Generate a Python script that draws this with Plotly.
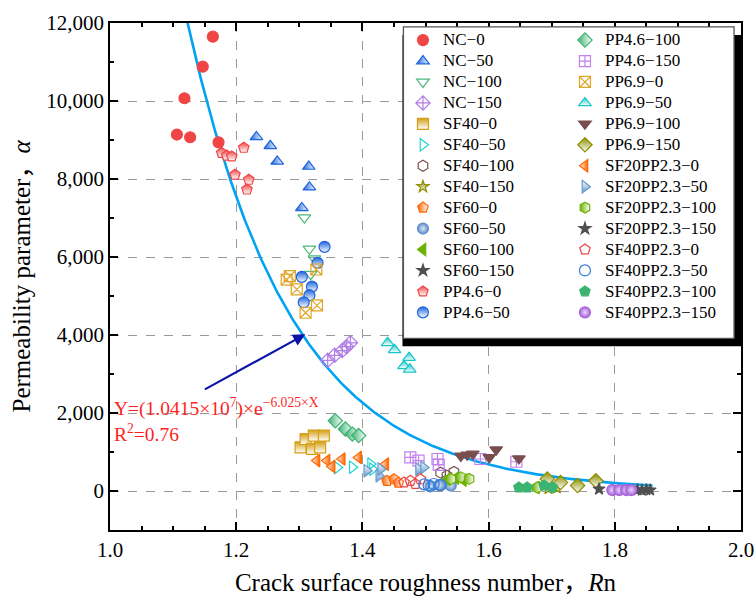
import numpy as np
import plotly.graph_objects as go

# ---------------- data ----------------
NC_0_x = [1.163, 1.147, 1.118, 1.106, 1.127, 1.172]
NC_0_y = [11650, 10880, 10070, 9140, 9070, 8940]
NC_50_x = [1.232, 1.254, 1.265, 1.315, 1.316, 1.304]
NC_50_y = [9080, 8850, 8450, 8320, 7790, 7260]
NC_100_x = [1.308, 1.316, 1.324, 1.318]
NC_100_y = [7010, 6210, 5960, 5560]
NC_150_x = [1.345, 1.356, 1.368, 1.375, 1.381]
NC_150_y = [3350, 3480, 3600, 3700, 3800]
SF40_0_x = [1.302, 1.310, 1.323, 1.339, 1.320, 1.333]
SF40_0_y = [1120, 1330, 1420, 1420, 1080, 1120]
SF40_50_x = [1.360, 1.384, 1.413, 1.416]
SF40_50_y = [600, 610, 690, 560]
SF40_100_x = [1.524, 1.545, 1.534]
SF40_100_y = [470, 490, 390]
SF40_150_x = [1.695, 1.708]
SF40_150_y = [60, 80]
SF60_0_x = [1.439, 1.450, 1.457]
SF60_0_y = [260, 300, 210]
SF60_50_x = [1.508, 1.522, 1.540]
SF60_50_y = [120, 150, 140]
SF60_100_x = [1.535, 1.548, 1.560, 1.676]
SF60_100_y = [300, 330, 280, 90]
SF60_150_x = [1.836, 1.843, 1.850, 1.856]
SF60_150_y = [30, 20, 35, 25]
PP46_0_x = [1.177, 1.185, 1.193, 1.212, 1.198, 1.220, 1.217]
PP46_0_y = [8670, 8600, 8580, 8800, 8110, 7980, 7730]
PP46_50_x = [1.340, 1.329, 1.304, 1.320, 1.316, 1.307]
PP46_50_y = [6260, 5850, 5490, 5240, 5020, 4840]
PP46_100_x = [1.357, 1.373, 1.384, 1.394]
PP46_100_y = [1800, 1590, 1460, 1420]
PP46_150_x = [1.476, 1.489, 1.519, 1.521, 1.587, 1.644]
PP46_150_y = [860, 780, 820, 670, 820, 750]
PP69_0_x = [1.285, 1.280, 1.296, 1.327, 1.328, 1.310]
PP69_0_y = [5510, 5420, 5170, 5680, 4760, 4570]
PP69_50_x = [1.440, 1.451, 1.474, 1.466, 1.475]
PP69_50_y = [3800, 3620, 3420, 3210, 3120]
PP69_100_x = [1.556, 1.566, 1.575, 1.601, 1.612, 1.648]
PP69_100_y = [900, 930, 950, 860, 1060, 830]
PP69_150_x = [1.693, 1.714, 1.741, 1.770]
PP69_150_y = [310, 220, 140, 260]
SF20PP_0_x = [1.328, 1.344, 1.352, 1.368, 1.394, 1.437]
SF20PP_0_y = [780, 780, 630, 820, 860, 690]
SF20PP_50_x = [1.407, 1.426, 1.429, 1.489, 1.497]
SF20PP_50_y = [520, 390, 560, 560, 600]
SF20PP_100_x = [1.540, 1.556, 1.569, 1.677]
SF20PP_100_y = [310, 350, 310, 90]
SF20PP_150_x = [1.775]
SF20PP_150_y = [50]
SF40PP_0_x = [1.466, 1.476, 1.484, 1.492]
SF40PP_0_y = [220, 260, 180, 300]
SF40PP_50_x = [1.505, 1.513, 1.524, 1.498]
SF40PP_50_y = [140, 180, 150, 170]
SF40PP_100_x = [1.648, 1.661, 1.688, 1.701]
SF40PP_100_y = [90, 90, 140, 90]
SF40PP_150_x = [1.796, 1.807, 1.818, 1.826]
SF40PP_150_y = [25, 25, 25, 25]

# fitted model shown on the chart: Y = A * exp(-B * X)
FIT_A = 1.0415e7
FIT_B = 6.025
FIT_X_START = 1.10
FIT_X_END = 1.86
R2 = 0.76

X_TICKS = [1.0, 1.2, 1.4, 1.6, 1.8, 2.0]
Y_TICKS = [0, 2000, 4000, 6000, 8000, 10000, 12000]

# ---------------- styles ----------------
W = "white"
series = [
    # name, x, y, symbol, color, fill, gradient(type, color), legend
    ("NC−0", NC_0_x, NC_0_y, "circle", "#F04545", None, None, "legend"),
    ("NC−50", NC_50_x, NC_50_y, "triangle-up", "#1E64DC", None, ("horizontal", W), "legend"),
    ("NC−100", NC_100_x, NC_100_y, "triangle-down-open", "#4DB87A", None, None, "legend"),
    ("NC−150", NC_150_x, NC_150_y, "diamond-cross-open", "#B07CE8", None, None, "legend"),
    ("SF40−0", SF40_0_x, SF40_0_y, "square", "#D4A017", None, ("vertical", W), "legend"),
    ("SF40−50", SF40_50_x, SF40_50_y, "triangle-right-open", "#1ED2D2", None, None, "legend"),
    ("SF40−100", SF40_100_x, SF40_100_y, "hexagon-open", "#7A4E4E", None, None, "legend"),
    ("SF40−150", SF40_150_x, SF40_150_y, "star", "#8E8E00", None, ("vertical", W), "legend"),
    ("SF60−0", SF60_0_x, SF60_0_y, "pentagon", "#FF6600", None, ("horizontal", W), "legend"),
    ("SF60−50", SF60_50_x, SF60_50_y, "circle", "#5F8FC8", None, ("radial", "#D8E6F5"), "legend"),
    ("SF60−100", SF60_100_x, SF60_100_y, "triangle-left", "#6DB200", None, None, "legend"),
    ("SF60−150", SF60_150_x, SF60_150_y, "star", "#505050", None, None, "legend"),
    ("PP4.6−0", PP46_0_x, PP46_0_y, "pentagon", "#F04545", None, ("vertical", W), "legend"),
    ("PP4.6−50", PP46_50_x, PP46_50_y, "circle", "#1E64DC", None, ("vertical", W), "legend"),
    ("PP4.6−100", PP46_100_x, PP46_100_y, "diamond", "#3CB371", None, ("horizontal", W), "legend2"),
    ("PP4.6−150", PP46_150_x, PP46_150_y, "square-cross-open", "#C080F0", None, None, "legend2"),
    ("PP6.9−0", PP69_0_x, PP69_0_y, "square-x-open", "#E0A526", None, None, "legend2"),
    ("PP6.9−50", PP69_50_x, PP69_50_y, "triangle-up", "#19C6C6", None, ("vertical", W), "legend2"),
    ("PP6.9−100", PP69_100_x, PP69_100_y, "triangle-down", "#7A4E4E", None, None, "legend2"),
    ("PP6.9−150", PP69_150_x, PP69_150_y, "diamond", "#8E8E00", None, ("vertical", W), "legend2"),
    ("SF20PP2.3−0", SF20PP_0_x, SF20PP_0_y, "triangle-left", "#FF6600", W, ("horizontal", "#FF6600"), "legend2"),
    ("SF20PP2.3−50", SF20PP_50_x, SF20PP_50_y, "triangle-right", "#6699CC", W, ("vertical", "#6699CC"), "legend2"),
    ("SF20PP2.3−100", SF20PP_100_x, SF20PP_100_y, "hexagon", "#6DB200", None, ("horizontal", W), "legend2"),
    ("SF20PP2.3−150", SF20PP_150_x, SF20PP_150_y, "star", "#505050", None, None, "legend2"),
    ("SF40PP2.3−0", SF40PP_0_x, SF40PP_0_y, "pentagon-open", "#F04545", None, None, "legend2"),
    ("SF40PP2.3−50", SF40PP_50_x, SF40PP_50_y, "circle-open", "#2F7BE0", None, None, "legend2"),
    ("SF40PP2.3−100", SF40PP_100_x, SF40PP_100_y, "pentagon", "#3CB371", None, None, "legend2"),
    ("SF40PP2.3−150", SF40PP_150_x, SF40PP_150_y, "circle", "#A862DA", None, ("radial", "#EBD6FA"), "legend2"),
]

FONT = "Liberation Serif"
TITLE_FONT = "Liberation Serif, Noto Sans CJK SC"
fig = go.Figure()

fx = np.linspace(FIT_X_START, FIT_X_END, 300)
fy = FIT_A * np.exp(-FIT_B * fx)
fig.add_trace(go.Scatter(x=fx, y=fy, mode="lines", line=dict(color="#00A2F2", width=2.6),
                         showlegend=False, hoverinfo="skip"))

for name, xs, ys, sym, col, fill, grad, leg in series:
    size = 9 if "star" in sym else 11
    mk = dict(symbol=sym, size=size, color=fill if fill else col,
              line=dict(color=col, width=1.2))
    if grad:
        mk["gradient"] = dict(type=grad[0], color=grad[1])
    fig.add_trace(go.Scatter(
        x=xs, y=ys, mode="markers", marker=mk, legend=leg,
        name="<span style='font-size:17px'>" + name + "</span>"))

# legend frame with shadow (data coordinates)
fig.add_shape(type="rect", xref="x", yref="y", x0=1.4635, x1=2.0, y0=3710, y1=11694,
              fillcolor="black", line=dict(width=0), layer="above")
fig.add_shape(type="rect", xref="x", yref="y", x0=1.465, x1=1.989, y0=3915, y1=11899,
              fillcolor="white", line=dict(color="#555555", width=1.3), layer="above")

fig.add_annotation(x=1.3095, y=4017, ax=1.148, ay=2584, xref="x", yref="y",
                   axref="x", ayref="y", showarrow=True, arrowhead=2, arrowsize=1.1,
                   arrowwidth=2.2, arrowcolor="#0A14A8", text="")
fig.add_annotation(x=1.003, y=2150, xref="x", yref="y", xanchor="left", yanchor="middle",
                   showarrow=False,
                   text="Y=(1.0415×10<sup>7</sup>)×e<sup>−6.025×X</sup>",
                   font=dict(family=FONT, size=19.5, color="#FF1F1F"))
fig.add_annotation(x=1.003, y=1480, xref="x", yref="y", xanchor="left", yanchor="middle",
                   showarrow=False, text="R<sup>2</sup>=%.2f" % R2,
                   font=dict(family=FONT, size=19.5, color="#FF1F1F"))

axis_common = dict(
    showline=True, linecolor="black", linewidth=1.8, mirror="allticks",
    ticks="inside", ticklen=8, tickwidth=1.6, tickcolor="black",
    showgrid=True, gridcolor="#9A9A9A", griddash="dash", gridwidth=1,
    zeroline=False, tickfont=dict(family=FONT, size=21, color="black"),
)
fig.update_xaxes(range=[1.0, 2.0], tickvals=X_TICKS, tickformat=".1f",
                 minor=dict(dtick=0.05, tick0=1.0, ticks="inside", ticklen=4, tickwidth=1.6,
                            tickcolor="black", showgrid=False),
                 title=dict(text="Crack surface roughness number，<i>R</i>n",
                            font=dict(family=TITLE_FONT, size=25, color="black"), standoff=12),
                 **axis_common)
fig.update_yaxes(range=[-1000, 12000], tickvals=Y_TICKS, tickformat=",d",
                 minor=dict(dtick=1000, tick0=0, ticks="inside", ticklen=4, tickwidth=1.6,
                            tickcolor="black", showgrid=False),
                 title=dict(text="Permeability parameter，<i>α</i>",
                            font=dict(family=TITLE_FONT, size=25, color="black"), standoff=8),
                 **axis_common)

leg_common = dict(font=dict(family=FONT, size=13.8, color="black"), bgcolor="rgba(0,0,0,0)",
                  borderwidth=0, tracegroupgap=0, xanchor="left", yanchor="top",
                  itemclick=False, itemdoubleclick=False)
fig.update_layout(
    width=756, height=601,
    margin=dict(l=110, r=15, t=23, b=71, autoexpand=False),
    paper_bgcolor="white", plot_bgcolor="white",
    legend=dict(x=0.4643, y=0.9968, **leg_common),
    legend2=dict(x=0.721, y=0.9968, **leg_common),
    font=dict(family=FONT, color="black"),
)
fig.write_html("out.html", config={"displayModeBar": False})
